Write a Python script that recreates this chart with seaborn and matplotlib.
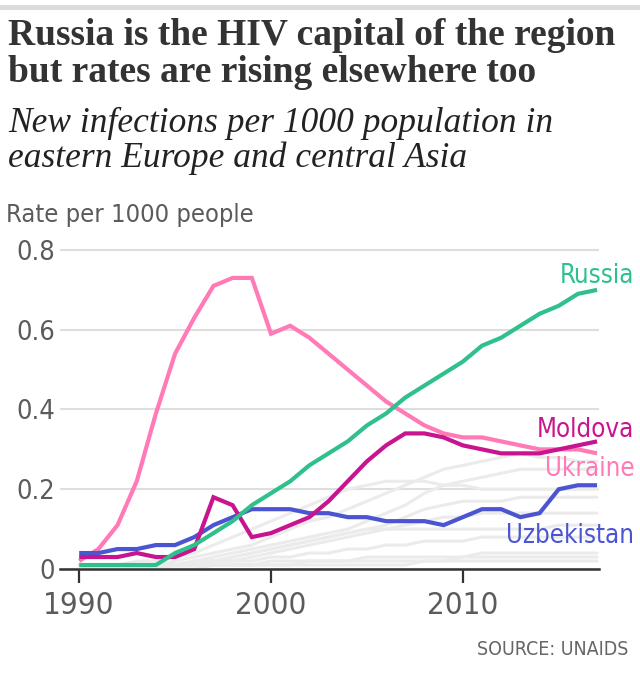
import matplotlib
matplotlib.use("Agg")
import matplotlib.pyplot as plt
from matplotlib import font_manager
from matplotlib.patches import Rectangle
import pandas as pd
import seaborn as sns

YEARS = list(range(1990, 2018))

RUSSIA = [0.01, 0.01, 0.01, 0.01, 0.01, 0.04, 0.06, 0.09, 0.12, 0.16,
          0.19, 0.22, 0.26, 0.29, 0.32, 0.36, 0.39, 0.43, 0.46, 0.49,
          0.52, 0.56, 0.58, 0.61, 0.64, 0.66, 0.69, 0.70]
UKRAINE = [0.02, 0.05, 0.11, 0.22, 0.39, 0.54, 0.63, 0.71, 0.73, 0.73,
           0.59, 0.61, 0.58, 0.54, 0.50, 0.46, 0.42, 0.39, 0.36, 0.34,
           0.33, 0.33, 0.32, 0.31, 0.30, 0.30, 0.30, 0.29]
MOLDOVA = [0.03, 0.03, 0.03, 0.04, 0.03, 0.03, 0.05, 0.18, 0.16, 0.08,
           0.09, 0.11, 0.13, 0.17, 0.22, 0.27, 0.31, 0.34, 0.34, 0.33,
           0.31, 0.30, 0.29, 0.29, 0.29, 0.30, 0.31, 0.32]
UZBEKISTAN = [0.04, 0.04, 0.05, 0.05, 0.06, 0.06, 0.08, 0.11, 0.13, 0.15,
              0.15, 0.15, 0.14, 0.14, 0.13, 0.13, 0.12, 0.12, 0.12, 0.11,
              0.13, 0.15, 0.15, 0.13, 0.14, 0.20, 0.21, 0.21]

# other countries of the region, drawn in grey (rough reads)
OTHERS = [
    [0.01, 0.01, 0.01, 0.01, 0.01, 0.02, 0.03, 0.04, 0.05, 0.06, 0.08, 0.10, 0.12, 0.13,
     0.15, 0.17, 0.19, 0.21, 0.23, 0.25, 0.26, 0.27, 0.28, 0.29, 0.28, 0.28, 0.27, 0.27],
    [0.01, 0.01, 0.01, 0.01, 0.01, 0.01, 0.02, 0.03, 0.04, 0.05, 0.06, 0.07, 0.08, 0.09,
     0.10, 0.12, 0.14, 0.16, 0.19, 0.21, 0.22, 0.23, 0.24, 0.25, 0.25, 0.25, 0.25, 0.25],
    [0.01, 0.01, 0.01, 0.02, 0.02, 0.03, 0.04, 0.06, 0.08, 0.10, 0.12, 0.14, 0.16, 0.18,
     0.20, 0.21, 0.22, 0.22, 0.22, 0.21, 0.21, 0.20, 0.20, 0.20, 0.20, 0.20, 0.20, 0.20],
    [0.00, 0.00, 0.01, 0.01, 0.01, 0.01, 0.02, 0.02, 0.03, 0.04, 0.05, 0.06, 0.07, 0.08,
     0.09, 0.10, 0.11, 0.13, 0.15, 0.16, 0.17, 0.17, 0.17, 0.18, 0.18, 0.18, 0.18, 0.18],
    [0.01, 0.01, 0.01, 0.01, 0.01, 0.01, 0.01, 0.02, 0.02, 0.03, 0.04, 0.05, 0.06, 0.07,
     0.08, 0.09, 0.10, 0.11, 0.12, 0.13, 0.13, 0.14, 0.14, 0.14, 0.14, 0.14, 0.14, 0.14],
    [0.00, 0.00, 0.00, 0.01, 0.01, 0.01, 0.02, 0.02, 0.03, 0.04, 0.05, 0.06, 0.07, 0.08,
     0.09, 0.10, 0.10, 0.10, 0.10, 0.10, 0.10, 0.10, 0.10, 0.10, 0.10, 0.11, 0.11, 0.11],
    [0.01, 0.01, 0.01, 0.01, 0.01, 0.01, 0.01, 0.02, 0.02, 0.02, 0.03, 0.03, 0.04, 0.04,
     0.05, 0.05, 0.06, 0.06, 0.07, 0.07, 0.07, 0.08, 0.08, 0.08, 0.08, 0.08, 0.08, 0.08],
    [0.00, 0.00, 0.00, 0.00, 0.01, 0.01, 0.01, 0.01, 0.01, 0.01, 0.02, 0.02, 0.02, 0.02,
     0.02, 0.03, 0.03, 0.03, 0.03, 0.03, 0.03, 0.04, 0.04, 0.04, 0.04, 0.04, 0.04, 0.04],
    [0.00, 0.00, 0.00, 0.00, 0.00, 0.01, 0.01, 0.01, 0.01, 0.01, 0.01, 0.01, 0.02, 0.02,
     0.02, 0.02, 0.02, 0.02, 0.02, 0.02, 0.03, 0.03, 0.03, 0.03, 0.03, 0.03, 0.03, 0.03],
    [0.00, 0.00, 0.00, 0.00, 0.00, 0.00, 0.00, 0.01, 0.01, 0.01, 0.01, 0.01, 0.01, 0.01,
     0.01, 0.01, 0.01, 0.01, 0.02, 0.02, 0.02, 0.02, 0.02, 0.02, 0.02, 0.02, 0.02, 0.02],
]

HIGHLIGHT = {
    "Ukraine": (UKRAINE, "#ff7ab6"),
    "Uzbekistan": (UZBEKISTAN, "#4c55d1"),
    "Moldova": (MOLDOVA, "#c8148e"),
    "Russia": (RUSSIA, "#30c08c"),
}
# label baselines in data units
LABEL_Y = {"Russia": 0.717, "Moldova": 0.33, "Ukraine": 0.232, "Uzbekistan": 0.065}

X_TICKS = [1990, 2000, 2010]
Y_TICKS = [0, 0.2, 0.4, 0.6, 0.8]
Y_TICK_LABELS = ["0", "0.2", "0.4", "0.6", "0.8"]

SERIF = ["Liberation Serif", "DejaVu Serif"]
TEXT_GREY = "#5b5b5b"

# a narrow sans if there is one
condensed = [f for f in font_manager.fontManager.ttflist
             if f.name == "DejaVu Sans" and "ondensed" in f.fname]
if condensed:
    SANS, STRETCH = ["DejaVu Sans"], "condensed"
else:
    SANS, STRETCH = ["Liberation Sans"], "normal"

sns.set_theme(style="white")
plt.rcParams["font.family"] = SANS
plt.rcParams["font.stretch"] = STRETCH

W, H = 640, 679
fig = plt.figure(figsize=(W / 100, H / 100), dpi=100)
ax = fig.add_axes([60 / W, 1 - 569 / H, (599 - 60) / W, (569 - 247.6) / H])

grey_df = pd.DataFrame(
    [(i, y, v) for i, s in enumerate(OTHERS) for y, v in zip(YEARS, s)],
    columns=["series", "year", "rate"],
)
sns.lineplot(data=grey_df, x="year", y="rate", units="series", estimator=None,
             color="#ebebeb", lw=2.2, ax=ax, legend=False, zorder=2)

for name, (vals, col) in HIGHLIGHT.items():
    sns.lineplot(x=YEARS, y=vals, color=col, lw=3.0, ax=ax, zorder=3,
                 solid_joinstyle="miter", solid_capstyle="butt")
    ax.text(2018.95, LABEL_Y[name], name, color=col, fontsize=18.5,
            ha="right", va="baseline", transform=ax.transData, clip_on=False)

ax.set_xlim(1989.0, 2017.1)
ax.set_ylim(0, 0.806)
ax.set_xticks(X_TICKS)
ax.set_xticklabels([str(x) for x in X_TICKS])
ax.set_yticks(Y_TICKS)
ax.set_yticklabels(Y_TICK_LABELS)
ax.set_xlabel("")
ax.set_ylabel("")
ax.grid(axis="y", color="#dedede", lw=1.5)
ax.grid(axis="x", visible=False)
for side in ["top", "right", "left"]:
    ax.spines[side].set_visible(False)
ax.spines["bottom"].set_color("#333333")
ax.spines["bottom"].set_linewidth(1.8)
ax.tick_params(axis="x", bottom=True, length=10, width=1.6, color="#333333",
               labelsize=22.5, labelcolor=TEXT_GREY, pad=6)
ax.tick_params(axis="y", left=False, length=0, labelsize=19.5,
               labelcolor=TEXT_GREY, pad=3.5)

# header
fig.patches.append(Rectangle((0, 1 - 9.5 / H), 1, 4.5 / H, transform=fig.transFigure,
                             color="#dcdcdc", lw=0))
fig.text(8 / W, 1 - 45 / H, "Russia is the HIV capital of the region", family=SERIF,
         fontweight="bold", fontsize=27, color="#333333", va="baseline")
fig.text(8 / W, 1 - 82 / H, "but rates are rising elsewhere too", family=SERIF,
         fontweight="bold", fontsize=27, color="#333333", va="baseline")
fig.text(8 / W, 1 - 132 / H, "New infections per 1000 population in", family=SERIF,
         style="italic", fontsize=25.5, color="#222222", va="baseline")
fig.text(8 / W, 1 - 167 / H, "eastern Europe and central Asia", family=SERIF,
         style="italic", fontsize=25.5, color="#222222", va="baseline")
fig.text(6 / W, 1 - 222 / H, "Rate per 1000 people", fontsize=18.3, color=TEXT_GREY,
         va="baseline")
fig.text(628 / W, 1 - 655 / H, "SOURCE: UNAIDS", fontsize=14, color="#666666",
         ha="right", va="baseline")

fig.savefig("out.png", dpi=100)
